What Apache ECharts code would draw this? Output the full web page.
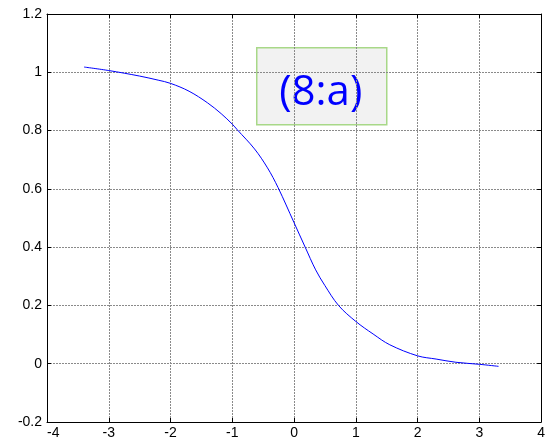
<!DOCTYPE html>
<html>
<head>
<meta charset="utf-8">
<script src="https://cdn.jsdelivr.net/npm/echarts@6/dist/echarts.min.js"></script>
<style>
  html, body { margin: 0; padding: 0; background: #ffffff; }
  #chart { width: 548px; height: 440px; }
</style>
</head>
<body>
<div id="chart"></div>
<script>
// Sampled curve (x, y)
const xValues = [-3.40, -3.00, -2.50, -2.20, -2.00, -1.70, -1.40, -1.18, -1.00, -0.92, -0.64, -0.43, -0.26, 0.00, 0.18, 0.35, 0.50, 0.72, 1.00, 1.28, 1.55, 2.00, 2.30, 2.62, 3.00, 3.31];
const yValues = [1.018, 1.006, 0.987, 0.973, 0.962, 0.935, 0.895, 0.858, 0.822, 0.803, 0.737, 0.672, 0.605, 0.484, 0.400, 0.322, 0.268, 0.200, 0.145, 0.102, 0.065, 0.027, 0.016, 0.005, -0.002, -0.009];

// Tick labels
const xTickLabels = ['-4', '-3', '-2', '-1', '0', '1', '2', '3', '4'];
const yTickLabels = ['-0.2', '0', '0.2', '0.4', '0.6', '0.8', '1', '1.2'];

const annotationText = '(8:a)';

const xMin = -4, xMax = 4, xStep = 1;
const yMin = -0.2, yMax = 1.2, yStep = 0.2;

const chart = echarts.init(document.getElementById('chart'), null, { renderer: 'canvas' });

const labelFont = { fontFamily: 'Liberation Sans, Arial, sans-serif', fontSize: 14, color: '#000000' };
const gridLine = { show: true, lineStyle: { color: '#8a8a8a', width: 1, type: [2, 1] } };
const frameLine = { show: true, onZero: false, lineStyle: { color: '#000000', width: 1 } };
const innerTick = { show: true, inside: true, length: 4, lineStyle: { color: '#000000', width: 1 } };

chart.setOption({
  animation: false,
  backgroundColor: '#ffffff',
  grid: { left: 47, right: 2, top: 14, bottom: 17, containLabel: false },
  xAxis: [
    {
      type: 'value', min: xMin, max: xMax, interval: xStep, position: 'bottom',
      axisLine: frameLine, axisTick: innerTick, splitLine: gridLine,
      axisLabel: Object.assign({
        margin: 4,
        alignMinLabel: 'left',
        formatter: v => xTickLabels[Math.round((v - xMin) / xStep)]
      }, labelFont)
    },
    {
      type: 'value', min: xMin, max: xMax, interval: xStep, position: 'top',
      axisLine: frameLine, axisTick: innerTick, splitLine: { show: false },
      axisLabel: { show: false }
    }
  ],
  yAxis: [
    {
      type: 'value', min: yMin, max: yMax, interval: yStep, position: 'left',
      axisLine: frameLine, axisTick: innerTick, splitLine: gridLine,
      axisLabel: Object.assign({
        margin: 5,
        formatter: v => yTickLabels[Math.round((v - yMin) / yStep)]
      }, labelFont)
    },
    {
      type: 'value', min: yMin, max: yMax, interval: yStep, position: 'right',
      axisLine: frameLine, axisTick: innerTick, splitLine: { show: false },
      axisLabel: { show: false }
    }
  ],
  series: [
    {
      type: 'line',
      data: xValues.map((x, i) => [x, yValues[i]]),
      smooth: 0.35,
      showSymbol: false,
      symbol: 'none',
      lineStyle: { color: '#0000ff', width: 1 },
      z: 5
    }
  ],
  graphic: [
    {
      type: 'group',
      left: 256,
      top: 47,
      z: 10,
      children: [
        {
          type: 'rect',
          shape: { x: 0, y: 0, width: 130, height: 77 },
          style: { fill: '#f2f2f2', stroke: '#a8d888', lineWidth: 1.5 }
        },
        {
          type: 'text',
          x: 64,
          y: 45,
          style: {
            text: annotationText,
            fill: '#0000ff',
            font: '42px "Open Sans", sans-serif',
            align: 'center',
            verticalAlign: 'middle'
          }
        }
      ]
    }
  ]
});
</script>
</body>
</html>
